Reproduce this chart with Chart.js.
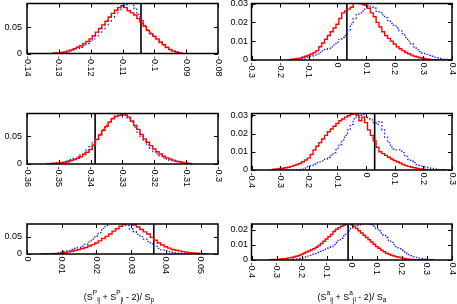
<!DOCTYPE html>
<html><head><meta charset="utf-8">
<script src="https://cdn.jsdelivr.net/npm/chart.js@4.4.1/dist/chart.umd.min.js"></script>
<style>
html,body{margin:0;padding:0;background:#fff;}
#wrap{position:relative;width:457px;height:304px;overflow:hidden;}
canvas{position:absolute;left:0;top:0;}
</style></head><body><div id="wrap">
<canvas id="c1" width="457" height="304"></canvas>
<canvas id="c2" width="457" height="304"></canvas>
<canvas id="c3" width="457" height="304"></canvas>
<canvas id="c4" width="457" height="304"></canvas>
<canvas id="c5" width="457" height="304"></canvas>
<canvas id="c6" width="457" height="304"></canvas>
</div>
<script>
// ---------- data ----------
const p1Bins = [-0.132,-0.131,-0.130,-0.129,-0.128,-0.127,-0.126,-0.125,-0.124,-0.123,-0.122,-0.121,-0.120,-0.119,-0.118,-0.117,-0.116,-0.115,-0.114,-0.113,-0.112,-0.111,-0.110,-0.109,-0.108,-0.107,-0.106,-0.105,-0.104,-0.103,-0.102,-0.101,-0.100,-0.099,-0.098,-0.097,-0.096,-0.095,-0.094,-0.093,-0.092,-0.091];
const p1Red = [0.0005,0.001,0.001,0.002,0.003,0.005,0.007,0.009,0.012,0.015,0.019,0.023,0.028,0.034,0.041,0.048,0.055,0.062,0.070,0.077,0.083,0.088,0.092,0.088,0.082,0.078,0.074,0.067,0.060,0.052,0.044,0.038,0.033,0.028,0.022,0.017,0.012,0.008,0.005,0.003,0.001,0.0005];
const p1Blue = [0,0.0005,0.001,0.001,0.002,0.003,0.005,0.007,0.010,0.012,0.015,0.019,0.023,0.028,0.034,0.041,0.048,0.055,0.062,0.070,0.078,0.084,0.090,0.094,0.100,0.098,0.087,0.075,0.063,0.054,0.046,0.039,0.032,0.026,0.021,0.016,0.011,0.007,0.004,0.002,0.001,0];
const p1Mark = -0.1042;
const p1XTicks = ['-0.14','-0.13','-0.12','-0.11','-0.1','-0.09','-0.08'];
const p1YTicks = ['0','0.05'];

const p2Bins = [-0.17,-0.16,-0.15,-0.14,-0.13,-0.12,-0.11,-0.10,-0.09,-0.08,-0.07,-0.06,-0.05,-0.04,-0.03,-0.02,-0.01,0,0.01,0.02,0.03,0.04,0.05,0.06,0.07,0.08,0.09,0.10,0.11,0.12,0.13,0.14,0.15,0.16,0.17,0.18,0.19,0.20,0.21,0.22,0.23,0.24,0.25,0.26,0.27,0.28,0.29,0.30,0.31,0.32,0.33,0.34,0.35,0.36,0.37,0.38,0.39,0.40];
const p2Red = [0,0.0003,0.0005,0.0008,0.001,0.0015,0.002,0.0025,0.0032,0.004,0.005,0.007,0.009,0.011,0.013,0.015,0.017,0.019,0.022,0.025,0.026,0.027,0.028,0.0305,0.031,0.030,0.0295,0.029,0.0275,0.025,0.023,0.020,0.0175,0.015,0.013,0.0115,0.010,0.0085,0.007,0.006,0.005,0.004,0.0033,0.0026,0.002,0.0016,0.0012,0.0009,0.0006,0.0004,0.0002,0.0001,0,0,0,0,0,0];
const p2Blue = [0,0,0,0,0.0003,0.0006,0.001,0.0014,0.002,0.0026,0.0032,0.004,0.0048,0.0055,0.006,0.007,0.008,0.0095,0.011,0.012,0.013,0.016,0.019,0.022,0.024,0.025,0.026,0.0275,0.029,0.028,0.0275,0.026,0.025,0.024,0.0225,0.021,0.0195,0.0185,0.017,0.0155,0.014,0.012,0.010,0.0085,0.007,0.0055,0.0045,0.0035,0.003,0.0025,0.002,0.0015,0.0012,0.0008,0.0005,0.0003,0.0002,0];
const p2Mark = 0.033;
const p2XTicks = ['-0.3','-0.2','-0.1','0','0.1','0.2','0.3','0.4'];
const p2YTicks = ['0','0.01','0.02','0.03'];

const p3Bins = [-0.354,-0.353,-0.352,-0.351,-0.350,-0.349,-0.348,-0.347,-0.346,-0.345,-0.344,-0.343,-0.342,-0.341,-0.340,-0.339,-0.338,-0.337,-0.336,-0.335,-0.334,-0.333,-0.332,-0.331,-0.330,-0.329,-0.328,-0.327,-0.326,-0.325,-0.324,-0.323,-0.322,-0.321,-0.320,-0.319,-0.318,-0.317,-0.316,-0.315,-0.314,-0.313,-0.312,-0.311,-0.310,-0.309,-0.308];
const p3Red = [0.0003,0.0006,0.001,0.0015,0.002,0.0025,0.003,0.004,0.006,0.008,0.010,0.013,0.017,0.021,0.026,0.034,0.044,0.052,0.060,0.067,0.075,0.081,0.085,0.087,0.088,0.088,0.084,0.077,0.069,0.062,0.053,0.045,0.039,0.033,0.027,0.022,0.018,0.014,0.011,0.009,0.007,0.005,0.004,0.003,0.002,0.001,0.0005];
const p3Blue = [0.0005,0.001,0.0015,0.002,0.003,0.0035,0.0045,0.006,0.008,0.010,0.013,0.016,0.020,0.025,0.031,0.038,0.046,0.054,0.062,0.069,0.076,0.082,0.086,0.088,0.089,0.087,0.082,0.075,0.066,0.057,0.049,0.041,0.034,0.028,0.022,0.018,0.014,0.011,0.009,0.007,0.005,0.004,0.003,0.002,0.0015,0.001,0.0005];
const p3Mark = -0.3386;
const p3XTicks = ['-0.36','-0.35','-0.34','-0.33','-0.32','-0.31','-0.3'];
const p3YTicks = ['0','0.05'];

const p4Bins = [-0.33,-0.32,-0.31,-0.30,-0.29,-0.28,-0.27,-0.26,-0.25,-0.24,-0.23,-0.22,-0.21,-0.20,-0.19,-0.18,-0.17,-0.16,-0.15,-0.14,-0.13,-0.12,-0.11,-0.10,-0.09,-0.08,-0.07,-0.06,-0.05,-0.04,-0.03,-0.02,-0.01,0,0.01,0.02,0.03,0.04,0.05,0.06,0.07,0.08,0.09,0.10,0.11,0.12,0.13,0.14,0.15,0.16,0.17,0.18,0.19,0.20,0.21,0.22,0.23,0.24,0.25,0.26,0.27,0.28];
const p4Red = [0.0002,0.0004,0.0006,0.0008,0.001,0.0012,0.0015,0.002,0.0025,0.003,0.0036,0.0045,0.0055,0.0065,0.0085,0.011,0.013,0.015,0.017,0.019,0.021,0.0225,0.024,0.0255,0.027,0.028,0.029,0.0298,0.0305,0.031,0.030,0.027,0.029,0.026,0.022,0.019,0.016,0.0125,0.010,0.009,0.008,0.007,0.006,0.0052,0.0045,0.0038,0.003,0.0024,0.002,0.0015,0.0012,0.0009,0.0006,0.0004,0.0002,0.0001,0,0,0,0,0,0];
const p4Blue = [0,0,0,0,0,0,0,0,0,0,0.0002,0.0005,0.001,0.0018,0.0025,0.0033,0.004,0.0045,0.005,0.006,0.007,0.008,0.0095,0.012,0.014,0.0165,0.019,0.022,0.025,0.028,0.029,0.030,0.0305,0.029,0.028,0.0275,0.026,0.025,0.0265,0.022,0.018,0.015,0.0125,0.0115,0.011,0.011,0.0095,0.0075,0.006,0.0048,0.004,0.003,0.0025,0.002,0.0016,0.0012,0.0009,0.0006,0.0004,0.0002,0.0001,0];
const p4Mark = 0.03;
const p4XTicks = ['-0.4','-0.3','-0.2','-0.1','0','0.1','0.2','0.3'];
const p4YTicks = ['0','0.01','0.02','0.03'];

const p5Bins = [0.004,0.005,0.006,0.007,0.008,0.009,0.010,0.011,0.012,0.013,0.014,0.015,0.016,0.017,0.018,0.019,0.020,0.021,0.022,0.023,0.024,0.025,0.026,0.027,0.028,0.029,0.030,0.031,0.032,0.033,0.034,0.035,0.036,0.037,0.038,0.039,0.040,0.041,0.042,0.043,0.044,0.045,0.046,0.047,0.048,0.049,0.050,0.051,0.052];
const p5Red = [0,0.0003,0.0005,0.0008,0.001,0.0015,0.002,0.004,0.006,0.008,0.011,0.013,0.016,0.019,0.023,0.027,0.032,0.038,0.045,0.051,0.058,0.066,0.073,0.080,0.085,0.089,0.088,0.084,0.078,0.071,0.064,0.058,0.048,0.040,0.032,0.026,0.021,0.017,0.013,0.011,0.009,0.007,0.0055,0.004,0.003,0.002,0.0013,0.0008,0.0004];
const p5Blue = [0.0003,0.0005,0.001,0.0015,0.002,0.003,0.005,0.007,0.010,0.013,0.016,0.019,0.023,0.028,0.035,0.043,0.052,0.062,0.074,0.083,0.088,0.090,0.092,0.092,0.090,0.082,0.073,0.065,0.057,0.050,0.043,0.036,0.029,0.022,0.016,0.012,0.009,0.007,0.005,0.0035,0.0025,0.0017,0.001,0.0006,0.0003,0,0,0,0];
const p5Mark = 0.0365;
const p5XTicks = ['0','0.01','0.02','0.03','0.04','0.05'];
const p5YTicks = ['0','0.05'];

const p6Bins = [-0.33,-0.32,-0.31,-0.30,-0.29,-0.28,-0.27,-0.26,-0.25,-0.24,-0.23,-0.22,-0.21,-0.20,-0.19,-0.18,-0.17,-0.16,-0.15,-0.14,-0.13,-0.12,-0.11,-0.10,-0.09,-0.08,-0.07,-0.06,-0.05,-0.04,-0.03,-0.02,-0.01,0,0.01,0.02,0.03,0.04,0.05,0.06,0.07,0.08,0.09,0.10,0.11,0.12,0.13,0.14,0.15,0.16,0.17,0.18,0.19,0.20,0.21,0.22,0.23,0.24,0.25,0.26,0.27,0.28,0.29,0.30,0.31,0.32,0.33];
const p6Red = [0.0001,0.0002,0.0003,0.0004,0.0005,0.0007,0.0009,0.0011,0.0014,0.0017,0.002,0.0025,0.003,0.0037,0.0045,0.0053,0.006,0.0068,0.0075,0.0085,0.0097,0.011,0.0125,0.014,0.0155,0.017,0.019,0.0205,0.0215,0.0225,0.0232,0.0238,0.0245,0.0235,0.0225,0.021,0.0195,0.018,0.0165,0.015,0.0135,0.012,0.0105,0.009,0.0078,0.0065,0.0055,0.0045,0.0038,0.0032,0.0027,0.0022,0.0018,0.0014,0.001,0.0007,0.0005,0.0003,0.0002,0.0001,0,0,0,0,0,0,0];
const p6Blue = [0,0,0,0,0,0,0,0.0001,0.0002,0.0003,0.0005,0.0007,0.001,0.0013,0.0017,0.0021,0.0026,0.0031,0.0037,0.0043,0.005,0.0057,0.0064,0.0072,0.008,0.009,0.0102,0.0115,0.013,0.0145,0.016,0.0178,0.0195,0.021,0.022,0.023,0.0235,0.024,0.0243,0.0243,0.024,0.0235,0.0225,0.021,0.0195,0.018,0.0165,0.015,0.0133,0.0117,0.0102,0.0089,0.0076,0.0065,0.0055,0.0045,0.0036,0.0029,0.0022,0.0017,0.0012,0.0009,0.0006,0.0004,0.0002,0.0001,0];
const p6Mark = -0.0146;
const p6XTicks = ['-0.4','-0.3','-0.2','-0.1','0','0.1','0.2','0.3','0.4'];
const p6YTicks = ['0','0.01','0.02'];

// axis titles: [text, level] level 1 = superscript, -1 = subscript
const titleLeft = [['(S',0],['P',1],['ij',-1],[' + S',0],['P',1],['ji',-1],[' - 2)/ S',0],['p',-1]];
const titleRight = [['(S',0],['a',1],['ij',-1],[' + S',0],['a',1],['ji',-1],[' - 2)/ S',0],['a',-1]];

// ---------- layout / style ----------
const FONT = '"Liberation Sans", Arial, Helvetica, sans-serif';
const W = 457, H = 304;

function drawRich(ctx, segs, cx, baseY) {
  const main = '9px ' + FONT, small = '6.5px ' + FONT;
  let w = 0;
  segs.forEach(s => { ctx.font = s[1] ? small : main; w += ctx.measureText(s[0]).width; });
  let x = cx - w / 2;
  ctx.textAlign = 'left'; ctx.textBaseline = 'alphabetic';
  segs.forEach(s => {
    ctx.font = s[1] ? small : main;
    const dy = s[1] === 1 ? -5 : (s[1] === -1 ? 2.5 : 0);
    ctx.fillText(s[0], x, baseY + dy);
    x += ctx.measureText(s[0]).width;
  });
}

const panelPlugin = {
  id: 'panel',
  afterDraw(chart, args, o) {
    const ctx = chart.ctx, ca = chart.chartArea, xs = chart.scales.x, ys = chart.scales.y;
    ctx.save();
    ctx.strokeStyle = '#000'; ctx.fillStyle = '#000';
    ctx.lineWidth = 1;
    ctx.beginPath();
    o.xTicks.forEach(t => {
      const x = Math.round(xs.getPixelForValue(parseFloat(t))) + 0.5;
      ctx.moveTo(x, ca.bottom); ctx.lineTo(x, ca.bottom - 4);
      ctx.moveTo(x, ca.top); ctx.lineTo(x, ca.top + 4);
    });
    o.yTicks.forEach(t => {
      const y = Math.round(ys.getPixelForValue(parseFloat(t))) + 0.5;
      ctx.moveTo(ca.left, y); ctx.lineTo(ca.left + 4, y);
      ctx.moveTo(ca.right, y); ctx.lineTo(ca.right - 4, y);
    });
    ctx.stroke();
    ctx.lineWidth = 1.5;
    ctx.strokeRect(ca.left, ca.top, ca.right - ca.left, ca.bottom - ca.top);
    ctx.font = '9px ' + FONT;
    ctx.textAlign = 'right'; ctx.textBaseline = 'middle';
    o.yTicks.forEach(t => ctx.fillText(t, o.yLabelX, ys.getPixelForValue(parseFloat(t))));
    ctx.textAlign = 'left'; ctx.textBaseline = 'middle';
    o.xTicks.forEach(t => {
      ctx.save();
      ctx.translate(xs.getPixelForValue(parseFloat(t)), ca.bottom + 2.5);
      ctx.rotate(Math.PI / 2);
      ctx.fillText(t, 0, 0);
      ctx.restore();
    });
    if (o.title) drawRich(ctx, o.title, o.titleX, o.titleY);
    ctx.restore();
  }
};

function makePanel(id, frame, xr, yr, bins, red, blue, mark, xTicks, yTicks, yLabelX, title, titleX) {
  const pts = vals => bins.map((c, i) => ({ x: c, y: vals[i] }));
  new Chart(document.getElementById(id), {
    type: 'line',
    data: { datasets: [
      { data: pts(red), borderColor: '#ff0000', borderWidth: 1.4, stepped: 'middle', pointRadius: 0, fill: false, clip: 0 },
      { data: pts(blue), borderColor: '#1a1aff', borderWidth: 1.3, borderDash: [1.5, 2], stepped: 'middle', pointRadius: 0, fill: false, clip: 0 },
      { data: [{ x: mark, y: yr[0] }, { x: mark, y: yr[1] }], borderColor: '#000', borderWidth: 1.6, pointRadius: 0, fill: false }
    ]},
    options: {
      responsive: false, animation: false, events: [], devicePixelRatio: 1,
      layout: { padding: { left: frame[0], top: frame[1], right: W - frame[2], bottom: H - frame[3] } },
      plugins: {
        legend: { display: false }, tooltip: { enabled: false },
        panel: { xTicks, yTicks, yLabelX, title, titleX, titleY: 299.5 }
      },
      scales: {
        x: { type: 'linear', min: xr[0], max: xr[1], display: false },
        y: { type: 'linear', min: yr[0], max: yr[1], display: false }
      }
    },
    plugins: [panelPlugin]
  });
}

makePanel('c1', [27, 3.5, 218, 53.5], [-0.14, -0.08], [0, 0.096], p1Bins, p1Red, p1Blue, p1Mark, p1XTicks, p1YTicks, 22, null, 0);
makePanel('c2', [251.5, 3.5, 452, 60], [-0.3, 0.4], [0, 0.03], p2Bins, p2Red, p2Blue, p2Mark, p2XTicks, p2YTicks, 248, null, 0);
makePanel('c3', [27, 113.5, 218, 164], [-0.36, -0.3], [0, 0.0905], p3Bins, p3Red, p3Blue, p3Mark, p3XTicks, p3YTicks, 22, null, 0);
makePanel('c4', [251.5, 113.5, 452, 170], [-0.4, 0.3], [0, 0.031], p4Bins, p4Red, p4Blue, p4Mark, p4XTicks, p4YTicks, 248, null, 0);
makePanel('c5', [27, 224, 218, 254], [0, 0.055], [0, 0.0867], p5Bins, p5Red, p5Blue, p5Mark, p5XTicks, p5YTicks, 22, titleLeft, 119);
makePanel('c6', [251.5, 224, 452, 260], [-0.4, 0.4], [0, 0.024], p6Bins, p6Red, p6Blue, p6Mark, p6XTicks, p6YTicks, 248, titleRight, 352);
</script>
</body></html>
